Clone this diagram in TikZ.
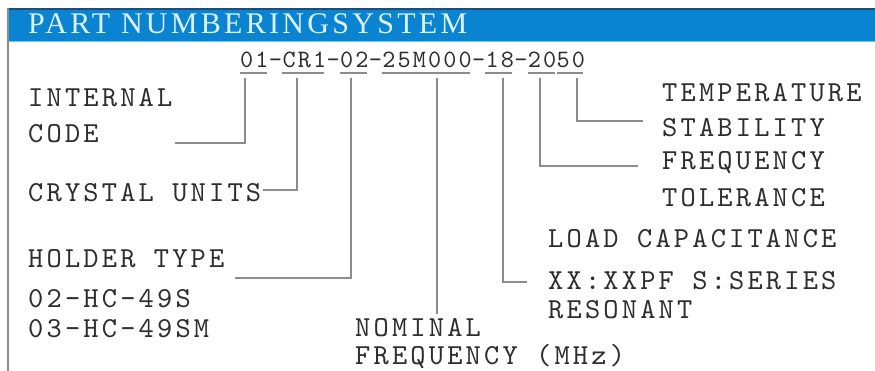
\documentclass[tikz,border=0pt]{standalone}
\usepackage{fontspec}
\setmainfont{Liberation Serif}
\newfontfamily\slabfont{lmmono10-regular.otf}
\usetikzlibrary{positioning,calc}
\definecolor{barblue}{HTML}{0A84D0}
\definecolor{bartop}{HTML}{1B4E78}
\definecolor{titlecyan}{HTML}{DDF2FF}
\definecolor{inkgray}{HTML}{2E2E2E}
\definecolor{leadgray}{HTML}{8C8C8C}

\begin{document}
\begin{tikzpicture}[x=1pt,y=-1pt,
  lbl/.style={anchor=base west,inner sep=0pt,text=inkgray,
    font=\fontsize{29}{34}\slabfont\addfontfeatures{LetterSpace=11}},
  seg/.style={inner sep=0pt,text=inkgray,text height=16pt,text depth=0pt,
    font=\fontsize{25}{29}\slabfont\addfontfeatures{LetterSpace=8.5}},
  uline/.style={draw=leadgray,line width=2pt},
  lead/.style={draw=leadgray,line width=2pt}
]
  \useasboundingbox[fill=white] (0,0) rectangle (875,371);

  % header bar
  \fill[barblue] (8,8) rectangle (875,42);
  \draw[bartop,line width=2pt] (8,9) -- (875,9);
  \draw[cyan!60,line width=1pt] (8,41.5) -- (875,41.5);
  \draw[leadgray,line width=1.5pt] (8,8) -- (8,371);
  \node[anchor=base west,inner sep=0pt,text=titlecyan,
    font=\fontsize{30}{36}\selectfont\addfontfeatures{LetterSpace=11}] (title) at (28,34)
    {PART NUMBERINGSYSTEM};

  % part number, one node per field
  \node[seg,anchor=south west] (s01) at (240,68) {01};
  \node[seg,right=0pt of s01] (d1) {-};
  \node[seg,right=0pt of d1] (scr) {CR1};
  \node[seg,right=0pt of scr] (d2) {-};
  \node[seg,right=0pt of d2] (s02) {02};
  \node[seg,right=0pt of s02] (d3) {-};
  \node[seg,right=0pt of d3] (s25) {25M000};
  \node[seg,right=0pt of s25] (d4) {-};
  \node[seg,right=0pt of d4] (s18) {18};
  \node[seg,right=0pt of s18] (d5) {-};
  \node[seg,right=0pt of d5] (s20) {20};
  \node[seg,right=0pt of s20] (s50) {50};

  \foreach \s in {s01,scr,s02,s25,s18,s20,s50}
    \draw[uline] ($(\s.south west)+(0pt,-5pt)$) -- ($(\s.south east)+(-2pt,-5pt)$);

  % labels on the left
  \node[lbl] (lint) at (28,107) {INTERNAL};
  \node[lbl] (lcode) at (28,143) {CODE};
  \node[lbl] (lcry) at (28,202) {CRYSTAL UNITS};
  \node[lbl] (lhold) at (28,268) {HOLDER TYPE};
  \node[lbl] (lhc1) at (28,307) {02-HC-49S};
  \node[lbl] (lhc2) at (28,337) {03-HC-49SM};

  % labels at the bottom
  \node[lbl] (lnom) at (355,336) {NOMINAL};
  \node[lbl] (lfreq) at (355,364) {FREQUENCY (MHz)};

  % labels on the right
  \node[lbl] (ltemp) at (662,102) {TEMPERATURE};
  \node[lbl] (lstab) at (662,137) {STABILITY};
  \node[lbl] (lfre) at (662,170) {FREQUENCY};
  \node[lbl] (ltol) at (662,207) {TOLERANCE};
  \node[lbl] (lload) at (548,248) {LOAD CAPACITANCE};
  \node[lbl] (lxx) at (548,290) {XX:XXPF S:SERIES};
  \node[lbl] (lres) at (548,318) {RESONANT};

  % leaders
  \draw[lead] ($(s01.south)+(-9pt,-10pt)$) |- ($(lint.east |- lcode.base)+(2pt,0pt)$);
  \draw[lead] ($(scr.south)+(-7pt,-10pt)$) |- ($(lcry.east)+(2pt,3pt)$);
  \draw[lead] ($(s02.south)+(-3pt,-10pt)$) |- ($(lhold.base east)+(10pt,-10pt)$);
  \draw[lead] ($(s25.south)+(10pt,-10pt)$) -- ($(s25.south |- lnom.north)+(10pt,4pt)$);
  \draw[lead] ($(s18.south)+(3pt,-10pt)$) |- ($(lxx.west)+(-21pt,-1pt)$);
  \draw[lead] ($(s20.south)+(-2pt,-10pt)$) |- ($(lfre.base west)+(-24pt,4pt)$);
  \draw[lead] ($(s50.south)+(6pt,-10pt)$) |- ($(lstab.north west)+(-19pt,-2pt)$);
\end{tikzpicture}
\end{document}
